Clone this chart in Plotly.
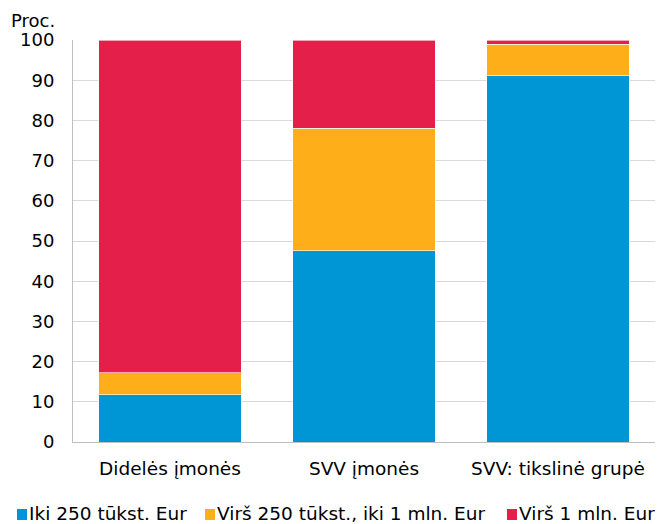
import plotly.graph_objects as go

categories = ["Didelės įmonės", "SVV įmonės", "SVV: tikslinė grupė"]
series_names = ["Iki 250 tūkst. Eur", "Virš 250 tūkst., iki 1 mln. Eur", "Virš 1 mln. Eur"]
iki_250 = [11.8, 47.6, 91.1]
virs_250_iki_1mln = [5.4, 30.5, 7.9]
virs_1mln = [82.8, 21.9, 1.0]
colors = ["#0096D6", "#FDAE19", "#E31F4A"]
y_ticks = [0, 10, 20, 30, 40, 50, 60, 70, 80, 90, 100]

# page body has an 8px margin, so the figure is drawn 8px in from the top-left
OFF = 8
W, H = 663 - OFF, 524 - OFF
L, T = 73 - OFF, 40 - OFF
PLOT_R, PLOT_B = 655 - OFF, 442 - OFF
R, B = W - PLOT_R, H - PLOT_B
PW, PH = PLOT_R - L, PLOT_B - T


def px(x):
    return (x - OFF - L) / PW


def py(y):
    return (PLOT_B - (y - OFF)) / PH


fig = go.Figure()
for name, vals, col in zip(series_names, [iki_250, virs_250_iki_1mln, virs_1mln], colors):
    fig.add_trace(go.Bar(
        x=categories, y=vals, name=name,
        marker=dict(color=col, line=dict(color="rgba(255,255,255,0.6)", width=1)),
    ))

font = "DejaVu Sans, Verdana, sans-serif"

# custom single-row legend (screen pixel positions)
legend_square_x = [17, 205, 507]
legend_text_x = [28, 216, 518]
shapes = []
annotations = []
for sx, tx, name, col in zip(legend_square_x, legend_text_x, series_names, colors):
    shapes.append(dict(type="rect", xref="paper", yref="paper",
                       x0=px(sx), x1=px(sx + 10), y0=py(520), y1=py(509),
                       fillcolor=col, line=dict(width=0)))
    annotations.append(dict(text=name, xref="paper", yref="paper", x=px(tx), y=py(513.5),
                            xanchor="left", yanchor="middle", showarrow=False,
                            borderpad=0, font=dict(size=18.5)))

annotations.append(dict(text="Proc.", xref="paper", yref="paper", x=px(10), y=1.0,
                        xanchor="left", yanchor="bottom", yshift=8, showarrow=False,
                        borderpad=0, font=dict(size=18)))

fig.update_layout(
    barmode="stack",
    bargap=0.263,
    width=W, height=H,
    margin=dict(l=L, r=R, t=T, b=B, autoexpand=False),
    paper_bgcolor="white", plot_bgcolor="white",
    font=dict(family=font, size=18, color="#000000"),
    showlegend=False,
    xaxis=dict(showline=True, linecolor="#BFBFBF", linewidth=1, ticks="",
               ticklabelstandoff=10, tickfont=dict(size=18.5)),
    yaxis=dict(range=[0, 100], tickvals=y_ticks, showgrid=True, gridcolor="#D9D9D9",
               gridwidth=1, showline=True, linecolor="#BFBFBF", linewidth=1,
               ticks="", ticklabelstandoff=14, tickfont=dict(size=18), zeroline=False),
    shapes=shapes,
    annotations=annotations,
)

fig.write_html("out.html")
